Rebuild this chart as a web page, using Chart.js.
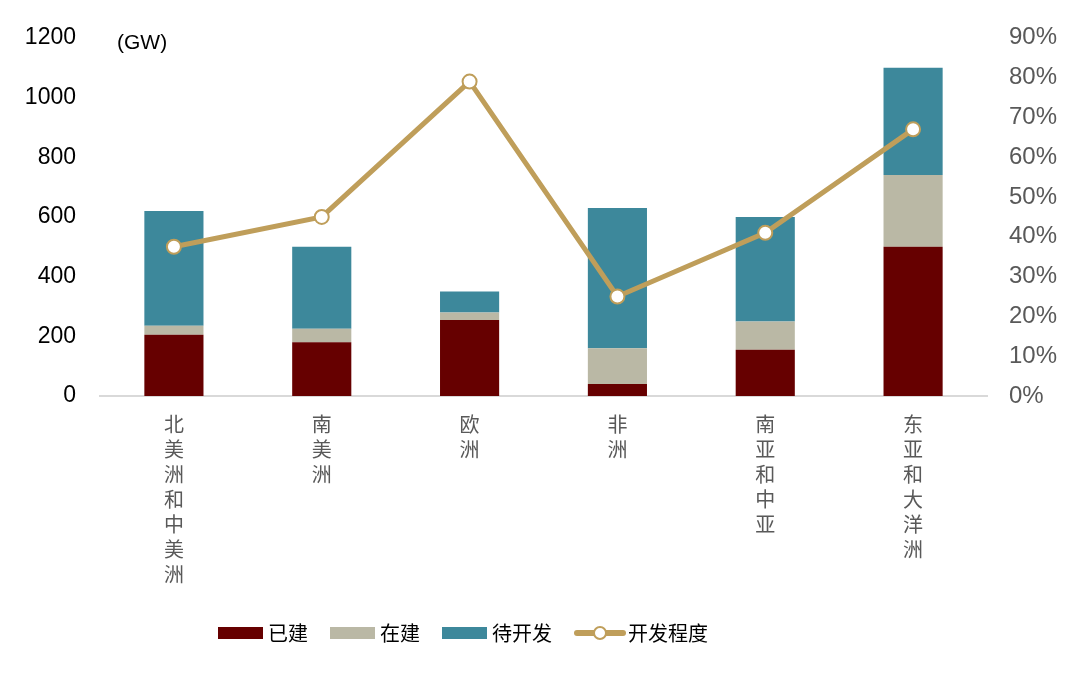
<!DOCTYPE html>
<html>
<head>
<meta charset="utf-8">
<script src="https://cdn.jsdelivr.net/npm/chart.js@4.4.1/dist/chart.umd.min.js"></script>
<style>
  html, body { margin: 0; padding: 0; background: #fff; }
  #wrap { width: 1080px; height: 675px; }
</style>
</head>
<body>
<div id="wrap"><canvas id="chart"></canvas></div>
<script>
// data
const regions = [
  ['北','美','洲','和','中','美','洲'],
  ['南','美','洲'],
  ['欧','洲'],
  ['非','洲'],
  ['南','亚','和','中','亚'],
  ['东','亚','和','大','洋','洲']
];
const built = [205, 180, 255, 40, 155, 500];        // 已建
const underConstruction = [30, 45, 25, 120, 95, 240]; // 在建
const pending = [385, 275, 70, 470, 350, 360];      // 待开发
const devRate = [37.5, 45, 79, 25, 41, 67];          // 开发程度 (%)

const leftTicks = [0, 200, 400, 600, 800, 1000, 1200];
const rightMax = 90;

const FONT = "Arial, 'Liberation Sans', 'Noto Sans CJK SC', sans-serif";
const CJK = "'Noto Sans CJK SC', Arial, 'Liberation Sans', sans-serif";
const GOLD = '#BF9E5A';
const COLORS = ['#660000', '#BAB8A5', '#3D889B'];

// "(GW)" unit label
const unitLabel = {
    id: 'unitLabel',
    afterDraw(chart) {
        const ctx = chart.ctx;
        ctx.save();
        ctx.font = '21px ' + FONT;
        ctx.fillStyle = '#000';
        ctx.textBaseline = 'middle';
        ctx.fillText('(GW)', 117, 43);
        ctx.restore();
    }
};

// --- legend drawn by hand: the original sits left of centre ---
const bottomLegend = {
    id: 'bottomLegend',
    afterDraw(chart) {
        const ctx = chart.ctx;
        const y = 633;
        let x = 218;
        ctx.save();
        ctx.font = '20px ' + CJK;
        ctx.textBaseline = 'middle';
        chart.data.datasets.forEach((ds, i) => {
            if (ds.type === 'line') {
                ctx.strokeStyle = GOLD;
                ctx.lineWidth = 6;
                ctx.lineCap = 'round';
                ctx.beginPath();
                ctx.moveTo(x + 3, y); ctx.lineTo(x + 49, y);
                ctx.stroke();
                ctx.beginPath();
                ctx.arc(x + 26, y, 6, 0, Math.PI * 2);
                ctx.fillStyle = '#fff';
                ctx.fill();
                ctx.lineWidth = 2;
                ctx.stroke();
                x += 54;
            } else {
                ctx.fillStyle = COLORS[i];
                ctx.fillRect(x, y - 6, 45, 12);
                x += 50;
            }
            ctx.fillStyle = '#000';
            ctx.fillText(ds.label, x, y);
            x += ctx.measureText(ds.label).width + 22;
        });
        ctx.restore();
    }
};

new Chart(document.getElementById('chart'), {
    type: 'bar',
    data: {
        labels: regions,
        datasets: [
            { label: '已建', data: built, backgroundColor: COLORS[0], order: 1 },
            { label: '在建', data: underConstruction, backgroundColor: COLORS[1], order: 1 },
            { label: '待开发', data: pending, backgroundColor: COLORS[2], order: 1 },
            {
                label: '开发程度', type: 'line', data: devRate, yAxisID: 'y1', order: 0,
                borderColor: GOLD, borderWidth: 5,
                pointRadius: 7, pointBackgroundColor: '#fff',
                pointBorderColor: GOLD, pointBorderWidth: 2
            }
        ]
    },
    options: {
        responsive: true,
        maintainAspectRatio: false,
        animation: false,
        layout: { padding: { top: 36, bottom: 60, left: 0, right: 0 } },
        datasets: { bar: { barPercentage: 0.4, categoryPercentage: 1 } },
        plugins: {
            tooltip: { enabled: false },
            legend: { display: false }
        },
        scales: {
            x: {
                stacked: true,
                grid: { display: false, drawTicks: false },
                border: { display: true, color: '#D9D9D9', width: 2 },
                ticks: {
                    font: { family: CJK, size: 20, lineHeight: 1.25 },
                    color: '#595959',
                    padding: 16,
                    maxRotation: 0,
                    minRotation: 0,
                    autoSkip: false
                },
                afterFit(scale) { scale.height = 219; }
            },
            y: {
                stacked: true,
                min: 0,
                max: leftTicks[leftTicks.length - 1],
                grid: { display: false, drawTicks: false },
                border: { display: false },
                afterBuildTicks(scale) { scale.ticks = leftTicks.map(v => ({ value: v })); },
                ticks: {
                    font: { family: FONT, size: 23 },
                    color: '#000',
                    padding: 24,
                    callback: v => String(v)
                },
                afterFit(scale) { scale.width = 100; }
            },
            y1: {
                position: 'right',
                min: 0,
                max: rightMax,
                grid: { display: false, drawTicks: false },
                border: { display: false },
                ticks: {
                    stepSize: 10,
                    font: { family: FONT, size: 24 },
                    color: '#595959',
                    padding: 22,
                    callback: v => v + '%'
                },
                afterFit(scale) { scale.width = 93; }
            }
        }
    },
    plugins: [unitLabel, bottomLegend]
});
</script>
</body>
</html>
